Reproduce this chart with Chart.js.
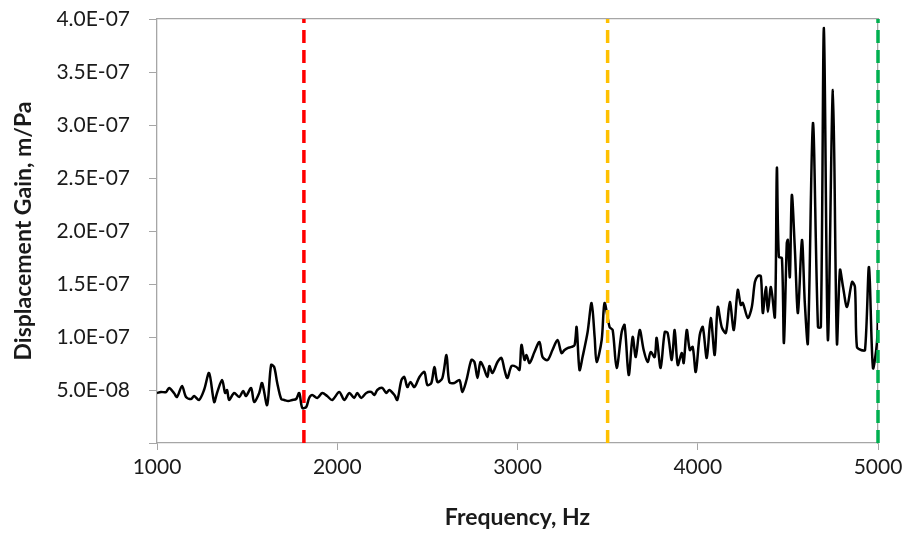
<!DOCTYPE html>
<html>
<head>
<meta charset="utf-8">
<title>Displacement Gain</title>
<script src="https://cdn.jsdelivr.net/npm/chart.js@4.4.1/dist/chart.umd.min.js"></script>
<style>
  html, body { margin: 0; padding: 0; background: #fff; }
  #gainChart { display: block; }
</style>
</head>
<body>
<canvas id="gainChart" width="910" height="533"></canvas>
<script>
// frequency, Hz
const freqs = [
  1000, 1022, 1050, 1067, 1094, 1111, 1139, 1161, 1189, 1206, 1233, 1261, 1289, 1317, 1333, 1361,
  1378, 1389, 1400, 1428, 1456, 1478, 1494, 1522, 1539, 1567, 1583, 1611, 1633, 1650, 1667, 1689,
  1706, 1728, 1750, 1772, 1789, 1806, 1828, 1844, 1861, 1889, 1917, 1944, 1972, 2011, 2039, 2067,
  2094, 2111, 2133, 2161, 2189, 2206, 2222, 2250, 2272, 2289, 2317, 2333, 2356, 2372, 2389, 2406,
  2428, 2456, 2483, 2500, 2522, 2539, 2556, 2583, 2606, 2622, 2650, 2678, 2694, 2717, 2744, 2761,
  2778, 2794, 2811, 2833, 2844, 2861, 2889, 2911, 2928, 2944, 2967, 2994, 3011, 3022, 3039, 3050,
  3067, 3094, 3122, 3139, 3167, 3194, 3222, 3244, 3261, 3278, 3300, 3317, 3328, 3344, 3361, 3389,
  3411, 3428, 3439, 3467, 3483, 3511, 3528, 3550, 3578, 3594, 3617, 3639, 3656, 3678, 3700, 3722,
  3739, 3761, 3772, 3794, 3817, 3833, 3856, 3872, 3889, 3911, 3922, 3939, 3956, 3972, 3989, 4011,
  4028, 4050, 4072, 4094, 4111, 4133, 4156, 4178, 4200, 4222, 4239, 4250, 4278, 4300, 4317, 4333,
  4350, 4361, 4378, 4389, 4406, 4428, 4439, 4450, 4467, 4478, 4494, 4500, 4511, 4522, 4539, 4556,
  4578, 4594, 4611, 4639, 4667, 4683, 4700, 4722, 4750, 4772, 4789, 4806, 4828, 4856, 4872, 4883,
  4906, 4928, 4950, 4972, 4994, 5000
];

// displacement gain, m/Pa
const gains = [
  4.72e-8, 4.81e-8, 4.81e-8, 5.19e-8, 4.72e-8, 4.34e-8, 5.38e-8, 4.34e-8, 4.15e-8, 4.43e-8, 4.06e-8, 5.0e-8, 6.60e-8, 3.87e-8, 4.72e-8, 5.94e-8,
  4.72e-8, 5.0e-8, 4.06e-8, 4.72e-8, 4.34e-8, 4.91e-8, 4.43e-8, 5.19e-8, 3.87e-8, 4.72e-8, 5.66e-8, 3.58e-8, 7.36e-8, 7.17e-8, 5.66e-8, 4.15e-8,
  4.06e-8, 3.96e-8, 4.06e-8, 4.15e-8, 4.72e-8, 3.30e-8, 3.40e-8, 4.25e-8, 4.53e-8, 4.25e-8, 4.72e-8, 4.43e-8, 4.06e-8, 4.81e-8, 4.06e-8, 4.72e-8,
  4.25e-8, 4.72e-8, 4.25e-8, 4.72e-8, 4.81e-8, 4.53e-8, 5.0e-8, 5.19e-8, 4.72e-8, 5.0e-8, 4.53e-8, 4.06e-8, 5.94e-8, 6.23e-8, 5.28e-8, 5.75e-8,
  5.28e-8, 6.23e-8, 6.70e-8, 5.47e-8, 5.66e-8, 7.17e-8, 5.75e-8, 6.13e-8, 8.30e-8, 5.75e-8, 5.66e-8, 5.94e-8, 4.81e-8, 5.94e-8, 7.83e-8, 7.64e-8,
  6.13e-8, 7.64e-8, 7.17e-8, 6.23e-8, 7.26e-8, 6.60e-8, 7.64e-8, 8.02e-8, 6.89e-8, 6.13e-8, 7.26e-8, 7.17e-8, 6.89e-8, 9.25e-8, 7.83e-8, 8.30e-8,
  7.55e-8, 8.58e-8, 9.53e-8, 8.11e-8, 7.83e-8, 8.77e-8, 9.72e-8, 8.49e-8, 8.77e-8, 8.96e-8, 9.06e-8, 9.25e-8, 10.94e-8, 6.89e-8, 8.11e-8, 10.47e-8,
  13.21e-8, 10.0e-8, 7.64e-8, 9.72e-8, 13.21e-8, 10.94e-8, 10.66e-8, 7.08e-8, 10.47e-8, 11.13e-8, 6.42e-8, 10.0e-8, 8.11e-8, 10.66e-8, 8.77e-8, 7.64e-8,
  8.58e-8, 8.11e-8, 9.91e-8, 7.08e-8, 10.47e-8, 10.38e-8, 7.83e-8, 10.66e-8, 7.36e-8, 8.49e-8, 7.55e-8, 10.66e-8, 8.77e-8, 9.06e-8, 6.70e-8, 10.19e-8,
  10.94e-8, 8.02e-8, 11.79e-8, 8.30e-8, 12.83e-8, 10.94e-8, 10.38e-8, 13.30e-8, 10.66e-8, 14.43e-8, 13.02e-8, 13.21e-8, 11.79e-8, 12.83e-8, 15.19e-8, 15.75e-8,
  15.75e-8, 12.26e-8, 14.72e-8, 12.36e-8, 14.72e-8, 11.89e-8, 25.94e-8, 17.55e-8, 17.45e-8, 9.43e-8, 18.87e-8, 19.15e-8, 15.66e-8, 23.40e-8, 18.21e-8, 12.26e-8,
  19.15e-8, 13.21e-8, 9.43e-8, 30.19e-8, 10.94e-8, 10.94e-8, 39.15e-8, 9.72e-8, 33.30e-8, 9.43e-8, 16.32e-8, 14.72e-8, 12.83e-8, 15.19e-8, 14.72e-8, 9.06e-8,
  8.77e-8, 8.77e-8, 16.60e-8, 7.08e-8, 9.43e-8, 12.55e-8
];

// dashed marker lines
const markerFreqs = [1815, 3500, 5000];
const markerColors = ["#ff0000", "#ffc000", "#00b050"];

const xTicks = [1000, 2000, 3000, 4000, 5000];
const yMin = 0;
const yMax = 4e-7;
const yStep = 5e-8;

const axisColor = "#a6a6a6";
const textColor = "#1a1a1a";

// 4.0E-07 style labels, zero left blank
function sciLabel(value) {
  if (Math.abs(value) < 1e-12) return "";
  const parts = value.toExponential(1).split("e");
  const exp = Number(parts[1]);
  const sign = exp < 0 ? "-" : "+";
  const digits = String(Math.abs(exp)).padStart(2, "0");
  return `${parts[0]}E${sign}${digits}`;
}

// no overflow padding, so the plot box sits where it should
function noEdgePadding(scale) {
  scale.paddingTop = 0;
  scale.paddingBottom = 0;
  scale.paddingLeft = 0;
  scale.paddingRight = 0;
}

const gainPoints = freqs.map((f, i) => ({ x: f, y: gains[i] }));

const markerSets = markerFreqs.map((f, i) => ({
  data: [{ x: f, y: yMin }, { x: f, y: yMax }],
  borderColor: markerColors[i],
  borderWidth: 3.5,
  borderDash: [13, 7],
  pointRadius: 0,
  tension: 0,
  clip: false
}));

const ctx = document.getElementById("gainChart");

// eslint-disable-next-line no-unused-vars
const gainChart = new Chart(ctx, {
  type: "line",
  data: {
    datasets: [
      ...markerSets,
      {
        label: "Displacement Gain",
        data: gainPoints,
        borderColor: "#000000",
        borderWidth: 2.5,
        pointRadius: 0,
        tension: 0.3
      }
    ]
  },
  options: {
    responsive: false,
    animation: false,
    layout: { padding: { left: 0, right: 32, top: 0, bottom: 0 } },
    plugins: {
      legend: { display: false },
      tooltip: { enabled: false }
    },
    scales: {
      x: {
        type: "linear",
        position: "bottom",
        min: xTicks[0],
        max: xTicks[xTicks.length - 1],
        afterBuildTicks: scale => {
          scale.ticks = xTicks.map(v => ({ value: v }));
        },
        afterFit: scale => {
          scale.height = 90;
          noEdgePadding(scale);
        },
        grid: { drawOnChartArea: false, color: axisColor, tickLength: 7 },
        border: { color: axisColor, width: 1.3 },
        ticks: {
          color: textColor,
          padding: 5,
          maxRotation: 0,
          callback: value => String(value),
          font: { family: "Lato", size: 21 }
        },
        title: {
          display: true,
          text: "Frequency, Hz",
          color: textColor,
          padding: { top: 2, bottom: 2 },
          font: { family: "Lato", size: 23, weight: "bold" }
        }
      },
      xTop: {
        type: "linear",
        position: "top",
        display: true,
        afterFit: scale => {
          scale.height = 19;
          noEdgePadding(scale);
        },
        grid: { display: false },
        ticks: { display: false },
        border: { display: true, color: axisColor, width: 1.3 }
      },
      y: {
        type: "linear",
        position: "left",
        min: yMin,
        max: yMax,
        afterFit: scale => {
          scale.width = 157;
          noEdgePadding(scale);
        },
        grid: { drawOnChartArea: false, color: axisColor, tickLength: 8 },
        border: { color: axisColor, width: 1.3 },
        ticks: {
          stepSize: yStep,
          color: textColor,
          padding: 19,
          callback: value => sciLabel(value),
          font: { family: "Lato", size: 21 }
        },
        title: {
          display: true,
          text: "Displacement Gain, m/Pa",
          color: textColor,
          padding: { top: 10, bottom: 0 },
          font: { family: "Lato", size: 23, weight: "bold" }
        }
      },
      yRight: {
        type: "linear",
        position: "right",
        display: true,
        afterFit: scale => {
          scale.width = 0;
          noEdgePadding(scale);
        },
        grid: { display: false },
        ticks: { display: false },
        border: { display: true, color: axisColor, width: 1.3 }
      }
    }
  }
});
</script>
</body>
</html>
